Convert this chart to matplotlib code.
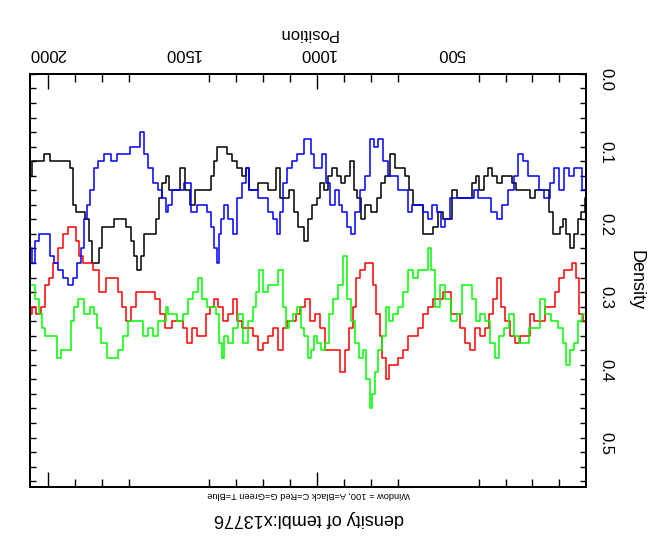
import matplotlib
matplotlib.use("Agg")
import matplotlib.pyplot as plt
from matplotlib.ticker import FixedLocator

# densities per base, window = 100
pos_a = [2067, 2052, 2027, 2003, 1978, 1953, 1928, 1910, 1903, 1891, 1879, 1866, 1854, 1841, 1829, 1817, 1804, 1792, 1767, 1742, 1717, 1699, 1686, 1674, 1662, 1649, 1637, 1624, 1606, 1593, 1581, 1569, 1556,
         1544, 1519, 1496, 1482, 1463, 1444, 1420, 1401, 1389, 1376, 1364, 1345, 1327, 1308, 1289, 1271, 1258, 1246, 1227, 1209, 1190, 1172, 1159, 1144, 1128, 1110, 1095, 1079, 1066, 1054, 1041, 1029,
         1011, 993, 984, 968, 952, 937, 918, 906, 887, 869, 856, 844, 831, 813, 788, 769, 757, 738, 720, 701, 683, 664, 652, 633, 614, 596, 577, 559, 540, 521,
         509, 490, 472, 453, 434, 416, 403, 391, 372, 356, 341, 323, 304, 286, 267, 255, 236, 217, 199, 180, 162, 143, 131, 116, 103, 91, 81, 69, 52, 38, 25, 13, 0]
dens_a = [0.14, 0.12, 0.12, 0.11, 0.12, 0.12, 0.12, 0.13, 0.18, 0.19, 0.19, 0.19, 0.20, 0.23, 0.26, 0.26, 0.24, 0.21, 0.21, 0.20, 0.20, 0.21, 0.23, 0.25, 0.27, 0.25, 0.22, 0.22, 0.22, 0.20, 0.17, 0.15, 0.14,
          0.16, 0.16, 0.13, 0.16, 0.18, 0.16, 0.16, 0.16, 0.14, 0.12, 0.10, 0.10, 0.11, 0.12, 0.13, 0.14, 0.13, 0.16, 0.16, 0.15, 0.15, 0.16, 0.16, 0.13, 0.17, 0.17, 0.16, 0.19, 0.21, 0.21, 0.23, 0.20,
          0.18, 0.17, 0.15, 0.16, 0.14, 0.13, 0.14, 0.15, 0.14, 0.12, 0.16, 0.17, 0.20, 0.18, 0.19, 0.17, 0.15, 0.14, 0.11, 0.13, 0.13, 0.14, 0.16, 0.18, 0.18, 0.22, 0.22, 0.21, 0.19, 0.20,
          0.20, 0.16, 0.17, 0.17, 0.17, 0.15, 0.14, 0.16, 0.14, 0.13, 0.14, 0.15, 0.14, 0.14, 0.15, 0.16, 0.16, 0.16, 0.17, 0.16, 0.16, 0.16, 0.19, 0.22, 0.22, 0.21, 0.20, 0.22, 0.24, 0.22, 0.20, 0.19, 0.17]

pos_c = [2067, 2052, 2034, 2015, 2003, 1988, 1972, 1953, 1934, 1916, 1903, 1891, 1879, 1860, 1841, 1823, 1798, 1773, 1748, 1730, 1717, 1699, 1680, 1662, 1637, 1612, 1593, 1575, 1556,
         1550, 1531, 1506, 1488, 1475, 1457, 1438, 1420, 1405, 1389, 1376, 1358, 1339, 1320, 1308, 1289, 1271, 1246, 1227, 1209, 1190, 1172, 1153, 1134, 1122, 1103, 1085, 1072, 1054, 1035,
         1017, 999, 980, 962, 943, 924, 906, 887, 872, 860, 848, 831, 813, 798, 786, 773, 763, 751, 738, 726, 707, 689, 670, 652, 633, 614, 596, 577, 559, 540, 521,
         511, 496, 478, 459, 441, 422, 403, 385, 366, 354, 339, 323, 310, 292, 273, 255, 236, 217, 203, 186, 162, 143, 124, 112, 93, 75, 59, 44, 34, 21, 7, 0]
dens_c = [0.33, 0.32, 0.33, 0.32, 0.29, 0.28, 0.26, 0.24, 0.22, 0.21, 0.21, 0.23, 0.25, 0.26, 0.26, 0.27, 0.30, 0.28, 0.28, 0.30, 0.32, 0.34, 0.32, 0.30, 0.30, 0.30, 0.31, 0.33, 0.35,
          0.35, 0.34, 0.34, 0.35, 0.37, 0.35, 0.36, 0.36, 0.33, 0.32, 0.31, 0.32, 0.34, 0.33, 0.31, 0.34, 0.35, 0.35, 0.36, 0.38, 0.37, 0.36, 0.35, 0.38, 0.35, 0.34, 0.34, 0.33, 0.32, 0.31,
          0.34, 0.33, 0.35, 0.38, 0.38, 0.38, 0.41, 0.38, 0.35, 0.32, 0.28, 0.27, 0.26, 0.26, 0.29, 0.33, 0.36, 0.39, 0.42, 0.40, 0.40, 0.39, 0.38, 0.36, 0.36, 0.35, 0.33, 0.32, 0.31, 0.31, 0.30,
          0.30, 0.33, 0.33, 0.35, 0.37, 0.38, 0.35, 0.36, 0.35, 0.33, 0.31, 0.28, 0.32, 0.34, 0.36, 0.37, 0.36, 0.36, 0.33, 0.34, 0.34, 0.32, 0.32, 0.30, 0.28, 0.27, 0.27, 0.26, 0.28, 0.33, 0.34, 0.34]

pos_g = [2067, 2052, 2040, 2027, 2015, 2003, 1984, 1972, 1959, 1941, 1922, 1906, 1897, 1879, 1854, 1835, 1823, 1810, 1792, 1767, 1748, 1730, 1711, 1693, 1674, 1655, 1637, 1618, 1600, 1581, 1569, 1556,
         1550, 1531, 1506, 1488, 1469, 1451, 1436, 1420, 1401, 1382, 1370, 1358, 1351, 1339, 1320, 1302, 1283, 1265, 1246, 1231, 1221, 1209, 1190, 1172, 1153, 1134, 1122, 1110, 1097, 1085, 1066, 1054, 1041, 1029,
         1017, 1005, 993, 980, 964, 949, 931, 912, 893, 881, 866, 854, 838, 823, 810, 800, 790, 782, 769, 751, 738, 726, 707, 689, 670, 652, 633, 614, 596, 583, 571, 552, 534, 515,
         490, 472, 453, 434, 418, 403, 385, 366, 348, 329, 317, 298, 279, 261, 242, 224, 205, 183, 164, 143, 118, 93, 81, 69, 54, 38, 25, 7, 0]
dens_g = [0.29, 0.29, 0.31, 0.33, 0.35, 0.36, 0.36, 0.36, 0.39, 0.38, 0.38, 0.34, 0.32, 0.31, 0.33, 0.32, 0.33, 0.35, 0.37, 0.39, 0.39, 0.38, 0.36, 0.34, 0.34, 0.34, 0.36, 0.35, 0.36, 0.34, 0.34, 0.32,
          0.33, 0.33, 0.34, 0.33, 0.31, 0.30, 0.28, 0.31, 0.32, 0.32, 0.33, 0.37, 0.39, 0.36, 0.37, 0.35, 0.33, 0.37, 0.34, 0.32, 0.30, 0.27, 0.30, 0.29, 0.29, 0.27, 0.32, 0.35, 0.34, 0.33, 0.32, 0.35, 0.36, 0.39,
          0.38, 0.36, 0.37, 0.38, 0.37, 0.33, 0.31, 0.29, 0.25, 0.31, 0.34, 0.37, 0.39, 0.38, 0.42, 0.46, 0.44, 0.41, 0.38, 0.36, 0.32, 0.34, 0.33, 0.32, 0.30, 0.27, 0.28, 0.27, 0.27, 0.24, 0.27, 0.32, 0.29, 0.31,
          0.34, 0.33, 0.29, 0.29, 0.31, 0.34, 0.33, 0.34, 0.37, 0.39, 0.36, 0.35, 0.33, 0.36, 0.37, 0.37, 0.35, 0.35, 0.31, 0.33, 0.34, 0.35, 0.37, 0.40, 0.38, 0.37, 0.34, 0.33, 0.33]

pos_t = [2067, 2052, 2040, 2027, 2015, 1996, 1984, 1972, 1953, 1934, 1916, 1897, 1885, 1872, 1860, 1848, 1835, 1823, 1804, 1779, 1755, 1730, 1705, 1686, 1668, 1649, 1637, 1618, 1600, 1581, 1569, 1556,
         1550, 1531, 1506, 1482, 1457, 1438, 1420, 1401, 1389, 1376, 1370, 1361, 1351, 1339, 1320, 1304, 1289, 1271, 1258, 1246, 1227, 1209, 1190, 1172, 1153, 1144, 1134, 1122, 1103, 1085, 1066, 1054, 1041, 1029,
         1017, 1005, 986, 974, 959, 943, 924, 912, 900, 881, 865, 850, 831, 813, 797, 782, 763, 745, 726, 707, 689, 670, 658, 639, 614, 596, 583, 565, 546, 534, 515,
         496, 478, 459, 441, 422, 410, 391, 366, 344, 323, 304, 279, 261, 245, 227, 207, 186, 168, 143, 128, 112, 93, 75, 56, 38, 25, 7, 0]
dens_t = [0.24, 0.26, 0.23, 0.22, 0.22, 0.22, 0.25, 0.26, 0.27, 0.28, 0.29, 0.28, 0.26, 0.24, 0.20, 0.18, 0.16, 0.13, 0.12, 0.11, 0.12, 0.11, 0.11, 0.10, 0.10, 0.08, 0.11, 0.13, 0.15, 0.16, 0.17, 0.19,
          0.18, 0.16, 0.16, 0.15, 0.19, 0.18, 0.18, 0.19, 0.21, 0.24, 0.26, 0.22, 0.20, 0.18, 0.20, 0.22, 0.17, 0.15, 0.13, 0.16, 0.16, 0.17, 0.17, 0.19, 0.20, 0.22, 0.19, 0.15, 0.13, 0.12, 0.11, 0.11, 0.09, 0.09,
          0.11, 0.13, 0.13, 0.11, 0.15, 0.18, 0.16, 0.18, 0.19, 0.21, 0.22, 0.19, 0.16, 0.14, 0.09, 0.10, 0.09, 0.12, 0.14, 0.14, 0.16, 0.16, 0.19, 0.18, 0.18, 0.19, 0.20, 0.18, 0.19, 0.21, 0.20,
          0.17, 0.17, 0.17, 0.17, 0.17, 0.16, 0.17, 0.17, 0.19, 0.20, 0.18, 0.16, 0.14, 0.11, 0.12, 0.14, 0.14, 0.16, 0.17, 0.15, 0.13, 0.16, 0.13, 0.14, 0.13, 0.13, 0.16, 0.16]

x_labels = [500, 1000, 1500, 2000]
x_long = [1000, 2000]
x_short = [100, 200, 300, 400, 700, 800, 900, 1100, 1200, 1300, 1400, 1700, 1800, 1900]
y_labels = [0.0, 0.1, 0.2, 0.3, 0.4, 0.5]
y_ticks = [i * 0.02 for i in range(29)]

plt.rcParams['font.family'] = ['Liberation Sans', 'DejaVu Sans']


def main():
    fig = plt.figure(figsize=(6.7, 5.4), dpi=100)
    ax = fig.add_axes([0.0448, 0.0981, 0.8303, 0.765])
    # twin axis only carries the long ticks at 1000 and 2000
    ax2 = ax.twiny()

    for p, d, c in [(pos_a, dens_a, 'black'), (pos_c, dens_c, '#ff0000'),
                    (pos_g, dens_g, '#00ff00'), (pos_t, dens_t, '#0000ff')]:
        xs, ys = zip(*zip(p, d, strict=True))
        ax.plot(xs, ys, color=c, lw=1.1, drawstyle='steps-mid')

    # the whole plot is shown upside down
    ax.set_xlim(2066, 0)
    ax.set_ylim(0.568, 0)
    ax2.set_xlim(ax.get_xlim())
    ax2.set_xticks(x_long)
    ax2.tick_params(direction='in', length=11, width=1, top=True, bottom=True,
                    labeltop=False, labelbottom=False)

    ax.xaxis.set_major_locator(FixedLocator(x_labels))
    ax.xaxis.set_minor_locator(FixedLocator(x_short))
    ax.tick_params(axis='x', which='major', length=0, top=True, bottom=False,
                   labeltop=True, labelbottom=False, labelrotation=180,
                   pad=9, labelsize=12)
    ax.tick_params(axis='x', which='minor', direction='in', length=5.5,
                   width=1, top=True, bottom=True)

    ax.yaxis.set_major_locator(FixedLocator(y_labels))
    ax.yaxis.set_minor_locator(FixedLocator(y_ticks))
    ax.set_yticklabels(['%.1f' % v for v in y_labels])
    ax.tick_params(axis='y', which='both', direction='in', length=4, width=1,
                   left=True, right=True, labelleft=False, labelright=True)
    ax.tick_params(axis='y', which='major', labelrotation=270, pad=9, labelsize=12)

    for s in list(ax.spines.values()) + list(ax2.spines.values()):
        s.set_linewidth(1.4)

    ax.xaxis.set_label_position('top')
    ax.set_xlabel('Position', rotation=180, fontsize=12, labelpad=6)
    ax.yaxis.set_label_position('right')
    ax.set_ylabel('Density', rotation=270, fontsize=13, labelpad=22)

    fig.text(0.461, 1 - 518 / 540, 'density of tembl:x13776', rotation=180,
             ha='center', va='center', fontsize=13)
    fig.text(0.461, 1 - 495 / 540, 'Window = 100, A=Black C=Red G=Green T=Blue',
             rotation=180, ha='center', va='center', fontsize=6.7)

    fig.savefig('out.png', dpi=100)
    plt.close(fig)


if __name__ == '__main__':
    main()
